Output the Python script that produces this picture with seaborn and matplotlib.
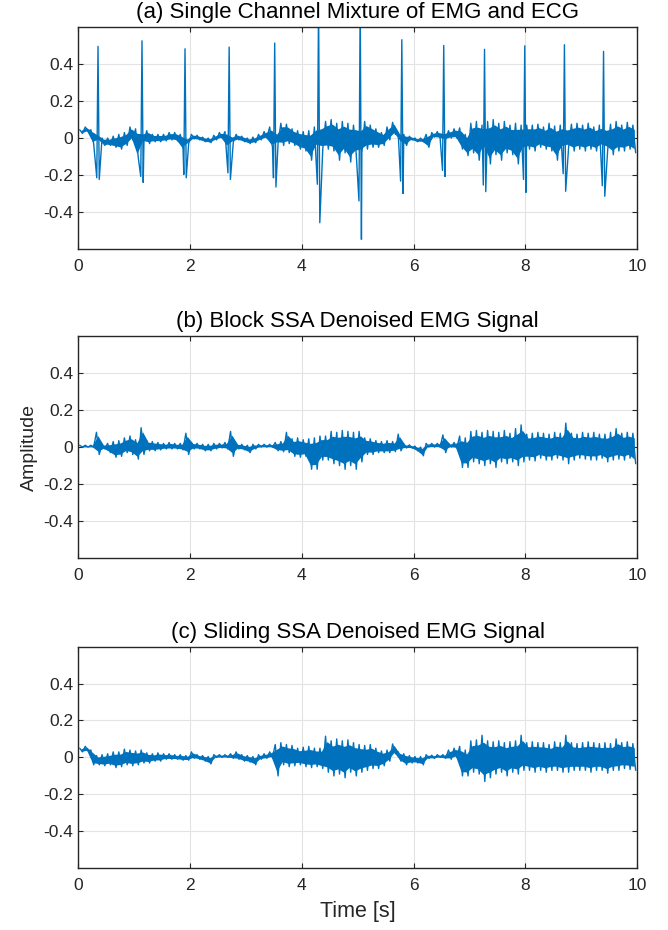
import numpy as np
import pandas as pd
import matplotlib
matplotlib.use("Agg")
import matplotlib.pyplot as plt
import seaborn as sns

# ---------------- data ----------------
# per 0.1 s bin: upper / lower extent of the signal (background, without ECG spikes)
a_hi = [0.045, 0.06, 0.045, 0.02, 0.0, 0.0, 0.01, 0.02, 0.03, 0.06,
        0.05, 0.03, 0.04, 0.02, 0.02, 0.02, 0.03, 0.03, 0.02, 0.0,
        0.02, 0.015, 0.005, 0.0, 0.015, 0.03, 0.035, 0.01, 0.02, 0.01,
        0.0, 0.005, 0.02, 0.035, 0.06, 0.03, 0.08, 0.075, 0.05, 0.04,
        0.035, 0.04, 0.06, 0.07, 0.09, 0.1, 0.08, 0.09, 0.08, 0.07,
        0.06, 0.09, 0.07, 0.05, 0.03, 0.06, 0.085, 0.03, 0.02, 0.01,
        0.0, 0.0, 0.02, 0.03, 0.035, 0.03, 0.04, 0.05, 0.055, 0.02,
        0.08, 0.09, 0.07, 0.09, 0.1, 0.08, 0.09, 0.07, 0.08, 0.07,
        0.07, 0.07, 0.075, 0.06, 0.08, 0.065, 0.07, 0.06, 0.075, 0.08,
        0.07, 0.08, 0.06, 0.07, 0.06, 0.075, 0.09, 0.07, 0.085, 0.07]
a_lo = [0.025, 0.035, -0.03, -0.01, -0.04, -0.04, -0.05, -0.06, -0.04, -0.01,
        -0.11, -0.02, -0.03, -0.02, -0.02, -0.015, -0.01, -0.015, -0.06, -0.03,
        -0.005, -0.01, -0.02, -0.025, -0.01, 0.0, -0.05, -0.02, -0.01, -0.02,
        -0.03, -0.025, -0.01, 0.0, -0.05, -0.03, -0.04, -0.03, -0.04, -0.06,
        -0.07, -0.12, -0.05, -0.06, -0.06, -0.07, -0.12, -0.08, -0.13, -0.09,
        -0.08, -0.06, -0.05, -0.05, -0.04, -0.01, 0.02, -0.02, -0.04, -0.01,
        -0.02, -0.02, -0.05, 0.005, 0.0, -0.01, 0.0, 0.0, -0.06, -0.095,
        -0.08, -0.12, -0.06, -0.14, -0.09, -0.12, -0.08, -0.09, -0.14, -0.07,
        -0.06, -0.07, -0.05, -0.06, -0.07, -0.12, -0.06, -0.05, -0.07, -0.06,
        -0.07, -0.06, -0.07, -0.05, -0.06, -0.09, -0.07, -0.07, -0.06, -0.08]

# ECG spikes in the mixture: R time, Q dip, R peak, S trough
spk_t = [0.353, 1.14, 1.91, 2.70, 3.515, 4.30, 5.045, 5.79, 6.54, 7.27, 7.99, 8.70, 9.40]
spk_q = [-0.215, -0.208, -0.197, -0.188, -0.215, -0.25, -0.34, -0.233, -0.175, -0.254, -0.224, -0.193, -0.258]
spk_r = [0.496, 0.526, 0.483, 0.492, 0.514, 0.75, 0.75, 0.532, 0.501, 0.48, 0.499, 0.505, 0.469]
spk_s = [-0.224, -0.24, -0.215, -0.224, -0.265, -0.458, -0.548, -0.30, -0.208, -0.29, -0.294, -0.288, -0.315]

b_hi = [0.01, 0.01, 0.01, 0.08, 0.015, 0.02, 0.03, 0.035, 0.05, 0.06,
        0.04, 0.105, 0.035, 0.03, 0.025, 0.02, 0.025, 0.02, 0.02, 0.075,
        0.025, 0.02, 0.015, 0.015, 0.02, 0.02, 0.025, 0.085, 0.02, 0.015,
        0.01, 0.015, 0.015, 0.015, 0.015, 0.025, 0.03, 0.08, 0.045, 0.05,
        0.04, 0.045, 0.05, 0.06, 0.06, 0.085, 0.08, 0.09, 0.085, 0.08,
        0.085, 0.05, 0.045, 0.035, 0.03, 0.035, 0.03, 0.07, 0.015, 0.012,
        0.005, 0.0, 0.02, 0.02, 0.02, 0.066, 0.02, 0.025, 0.06, 0.05,
        0.085, 0.09, 0.08, 0.09, 0.085, 0.08, 0.09, 0.075, 0.1, 0.12,
        0.07, 0.075, 0.08, 0.075, 0.07, 0.08, 0.075, 0.13, 0.075, 0.07,
        0.08, 0.075, 0.08, 0.07, 0.07, 0.08, 0.1, 0.075, 0.08, 0.075]
b_lo = [0.0, 0.0, 0.0, -0.04, -0.01, -0.03, -0.055, -0.05, -0.03, -0.04,
        -0.065, -0.04, -0.02, -0.02, -0.015, -0.01, -0.01, -0.01, -0.015, -0.04,
        -0.01, -0.01, -0.02, -0.02, -0.01, -0.005, -0.01, -0.05, -0.01, -0.015,
        -0.03, -0.01, 0.0, 0.0, 0.0, -0.02, -0.025, -0.03, -0.05, -0.055,
        -0.05, -0.12, -0.12, -0.07, -0.07, -0.09, -0.1, -0.12, -0.1, -0.12,
        -0.08, -0.04, -0.04, -0.03, -0.03, -0.03, -0.025, -0.02, -0.005, -0.005,
        -0.02, -0.047, 0.0, 0.0, 0.0, -0.03, 0.0, -0.005, -0.11, -0.11,
        -0.08, -0.09, -0.1, -0.09, -0.11, -0.08, -0.09, -0.08, -0.1, -0.08,
        -0.07, -0.075, -0.06, -0.07, -0.07, -0.06, -0.07, -0.09, -0.07, -0.06,
        -0.065, -0.07, -0.07, -0.06, -0.08, -0.07, -0.065, -0.07, -0.06, -0.09]

c_hi = [0.05, 0.06, 0.04, 0.01, 0.015, 0.02, 0.03, 0.03, 0.045, 0.04,
        0.035, 0.04, 0.025, 0.02, 0.025, 0.02, 0.02, 0.015, 0.015, 0.01,
        0.03, 0.015, 0.01, 0.005, 0.015, 0.015, 0.015, 0.02, 0.03, 0.015,
        0.01, 0.005, 0.015, 0.02, 0.03, 0.07, 0.08, 0.07, 0.065, 0.05,
        0.055, 0.06, 0.05, 0.05, 0.115, 0.09, 0.1, 0.09, 0.095, 0.08,
        0.07, 0.065, 0.07, 0.05, 0.035, 0.04, 0.073, 0.03, 0.02, 0.01,
        0.005, 0.005, 0.015, 0.012, 0.015, 0.015, 0.04, 0.05, 0.06, 0.04,
        0.09, 0.095, 0.12, 0.09, 0.085, 0.09, 0.08, 0.085, 0.09, 0.12,
        0.08, 0.085, 0.08, 0.08, 0.07, 0.085, 0.08, 0.12, 0.08, 0.075,
        0.08, 0.085, 0.08, 0.075, 0.08, 0.075, 0.1, 0.08, 0.085, 0.075]
c_lo = [0.03, 0.035, -0.04, -0.04, -0.045, -0.04, -0.055, -0.05, -0.04, -0.045,
        -0.04, -0.03, -0.03, -0.02, -0.02, -0.01, -0.01, -0.01, -0.015, -0.015,
        -0.005, -0.01, -0.02, -0.035, 0.0, 0.0, 0.0, -0.005, -0.01, -0.02,
        -0.025, -0.04, -0.01, -0.005, 0.0, -0.1, -0.04, -0.05, -0.045, -0.04,
        -0.05, -0.055, -0.05, -0.06, -0.08, -0.1, -0.09, -0.11, -0.08, -0.1,
        -0.08, -0.07, -0.06, -0.06, -0.045, -0.02, 0.02, -0.02, -0.04, -0.03,
        -0.03, -0.04, -0.005, -0.005, 0.0, -0.005, -0.01, 0.0, -0.1, -0.1,
        -0.08, -0.09, -0.13, -0.11, -0.09, -0.08, -0.1, -0.08, -0.09, -0.07,
        -0.07, -0.08, -0.07, -0.08, -0.07, -0.07, -0.08, -0.08, -0.07, -0.07,
        -0.07, -0.08, -0.07, -0.07, -0.085, -0.07, -0.07, -0.06, -0.065, -0.07]

titles = ["(a) Single Channel Mixture of EMG and ECG",
          "(b) Block SSA Denoised EMG Signal",
          "(c) Sliding SSA Denoised EMG Signal"]
x_ticks = [0, 2, 4, 6, 8, 10]
y_ticks = [-0.4, -0.2, 0, 0.2, 0.4]
y_ticklabels = ["-0.4", "-0.2", "0", "0.2", "0.4"]
x_label = "Time [s]"
y_label = "Amplitude"

BIN = 0.1


def build_trace(hi, lo, spikes=None):
    n = len(hi)
    start = np.arange(n) * BIN
    t = np.concatenate([start + 0.25 * BIN, start + 0.75 * BIN])
    v = np.concatenate([np.asarray(hi), np.asarray(lo)])
    if spikes is not None:
        st, sq, sr, ss = [np.asarray(s) for s in spikes]
        keep = np.ones(len(t), bool)
        for ts in st:
            keep &= np.abs(t - ts) > 0.03
        t, v = t[keep], v[keep]
        t = np.concatenate([t, st - 0.022, st, st + 0.022])
        v = np.concatenate([v, sq, sr, ss])
    order = np.argsort(t, kind="stable")
    return pd.DataFrame({"t": t[order], "v": v[order]})


def build_band(hi, lo):
    n = len(hi)
    return pd.DataFrame({"t": np.arange(n) * BIN + 0.5 * BIN,
                         "hi": np.asarray(hi), "lo": np.asarray(lo)})


traces = [build_trace(a_hi, a_lo, (spk_t, spk_q, spk_r, spk_s)),
          build_trace(b_hi, b_lo),
          build_trace(c_hi, c_lo)]
bands = [build_band(a_hi, a_lo), build_band(b_hi, b_lo), build_band(c_hi, c_lo)]

# ---------------- styling ----------------
sns.set_theme(style="white")
plt.rcParams["font.family"] = ["Liberation Sans", "DejaVu Sans"]
TXT = "#262626"
BLUE = "#0072BD"

fig = plt.figure(figsize=(6.68, 9.3), dpi=100)
left, width, height = 0.1172, 0.8365, 0.2385
bottoms = [0.7323, 0.4000, 0.0663]

for i, (df, band, ttl, bot) in enumerate(zip(traces, bands, titles, bottoms)):
    ax = fig.add_axes([left, bot, width, height])
    # dense core of the noisy trace
    core_hi = band["lo"] + 0.85 * (band["hi"] - band["lo"])
    core_lo = band["lo"] + 0.15 * (band["hi"] - band["lo"])
    ax.fill_between(band["t"], core_lo, core_hi, color=BLUE, linewidth=0)
    sns.lineplot(data=df, x="t", y="v", ax=ax, sort=False, estimator=None,
                 color=BLUE, linewidth=1.0)
    ax.set_xlim(0, 10)
    ax.set_ylim(-0.6, 0.6)
    ax.set_xticks(x_ticks)
    ax.set_xticklabels([str(x) for x in x_ticks])
    ax.set_yticks(y_ticks)
    ax.set_yticklabels(y_ticklabels)
    ax.grid(True, color="#e3e3e3", linewidth=0.8)
    ax.set_axisbelow(True)
    for sp in ax.spines.values():
        sp.set_color(TXT)
        sp.set_linewidth(1.0)
        sp.set_visible(True)
    ax.tick_params(axis="both", direction="in", length=3.6, width=0.8,
                   colors=TXT, labelcolor=TXT, labelsize=12.5,
                   top=True, right=True, bottom=True, left=True)
    ax.tick_params(axis="x", pad=7)
    ax.tick_params(axis="y", pad=3.5)
    ax.set_title(ttl, fontsize=16, color="black", pad=6.5)
    ax.set_xlabel("")
    ax.set_ylabel("")
    if i == 1:
        ax.set_ylabel(y_label, fontsize=14, color=TXT, labelpad=4)
    if i == 2:
        ax.set_xlabel(x_label, fontsize=15.5, color=TXT, labelpad=6)

fig.savefig("out.png", dpi=100)
